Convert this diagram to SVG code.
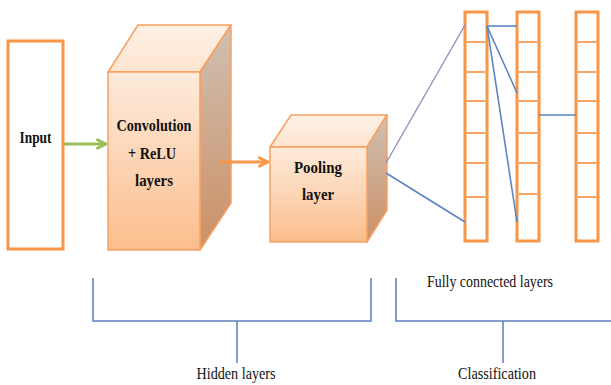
<svg xmlns="http://www.w3.org/2000/svg" width="611" height="385" viewBox="0 0 611 385">
<defs>
<linearGradient id="gFront" x1="0" y1="0" x2="0" y2="1">
<stop offset="0" stop-color="#FDEBDC"/>
<stop offset="1" stop-color="#FBBE8C"/>
</linearGradient>
<linearGradient id="gSide" x1="0" y1="0" x2="0" y2="1">
<stop offset="0" stop-color="#CFC0B2"/>
<stop offset="1" stop-color="#CC9066"/>
</linearGradient>
<linearGradient id="gTop" x1="0" y1="0" x2="0" y2="1">
<stop offset="0" stop-color="#FEF1E6"/>
<stop offset="1" stop-color="#FDE4CF"/>
</linearGradient>
<marker id="arrG" viewBox="0 0 10 10" refX="9" refY="5" markerWidth="4" markerHeight="4" orient="auto" markerUnits="strokeWidth">
<path d="M1,1 L9,5 L1,9" fill="none" stroke="#9BBB59" stroke-width="2.2"/>
</marker>
<marker id="arrO" viewBox="0 0 10 10" refX="9" refY="5" markerWidth="4" markerHeight="4" orient="auto" markerUnits="strokeWidth">
<path d="M1,1 L9,5 L1,9" fill="none" stroke="#F79646" stroke-width="2.2"/>
</marker>
</defs>
<style>
.box{fill:#fff;stroke:#F79646;stroke-width:3}
.face{stroke:#F9A060;stroke-width:1.5;stroke-linejoin:round}
.cell{stroke:#F9A566;stroke-width:2}
.lbl{font-family:"Liberation Serif",serif;font-weight:bold;font-size:17px;fill:#111;text-anchor:middle}
.cap{font-family:"Liberation Serif",serif;font-size:16px;fill:#111;text-anchor:middle}
.br{fill:none;stroke:#5A7FBE;stroke-width:1.5}
.blue{stroke:#5B84C4;stroke-width:1.6}
</style>

<g id="input">
<rect class="box" x="8" y="41" width="55" height="208"/>
<text class="lbl" x="35.5" y="143" textLength="32" lengthAdjust="spacingAndGlyphs">Input</text>
</g>

<g id="conv">
<polygon class="face" points="108,72 138,25 231,25 200,72" fill="url(#gTop)"/>
<polygon class="face" points="200,72 231,25 231,203 200,250" fill="url(#gSide)"/>
<rect class="face" x="108" y="72" width="92" height="178" fill="url(#gFront)"/>
<text class="lbl" x="154" y="131" textLength="75" lengthAdjust="spacingAndGlyphs">Convolution</text>
<text class="lbl" x="152" y="159" textLength="48" lengthAdjust="spacingAndGlyphs">+ ReLU</text>
<text class="lbl" x="154" y="186" textLength="38" lengthAdjust="spacingAndGlyphs">layers</text>
</g>

<g id="pool">
<polygon class="face" points="270,147 291,115 387,115 367,147" fill="url(#gTop)"/>
<polygon class="face" points="367,147 387,115 387,210 367,242" fill="url(#gSide)"/>
<rect class="face" x="270" y="147" width="97" height="95" fill="url(#gFront)"/>
<text class="lbl" x="318" y="173" textLength="48" lengthAdjust="spacingAndGlyphs">Pooling</text>
<text class="lbl" x="318" y="200" textLength="32" lengthAdjust="spacingAndGlyphs">layer</text>
</g>

<g id="fc1">
<rect class="box" x="465" y="12" width="22" height="229"/>
<path class="cell" d="M465,42H487M465,72H487M465,101H487M465,133H487M465,163H487M465,197H487"/>
</g>
<g id="fc2">
<rect class="box" x="517" y="12" width="22" height="229"/>
<path class="cell" d="M517,42H539M517,72H539M517,101H539M517,133H539M517,163H539M517,194H539"/>
</g>
<g id="fc3">
<rect class="box" x="576" y="12" width="22" height="229"/>
<path class="cell" d="M576,42H598M576,72H598M576,101H598M576,133H598M576,163H598M576,197H598"/>
</g>

<g id="connectors">
<line x1="64" y1="144" x2="106" y2="144" stroke="#9BBB59" stroke-width="3" marker-end="url(#arrG)"/>
<line x1="220" y1="162" x2="268" y2="162" stroke="#F79646" stroke-width="3" marker-end="url(#arrO)"/>
<line x1="386" y1="163" x2="465" y2="25" stroke="#9A83BE" stroke-width="1.3"/>
<line class="blue" x1="386" y1="173" x2="465" y2="222"/>
<line class="blue" x1="487" y1="26" x2="517" y2="26"/>
<line class="blue" x1="487" y1="26" x2="517" y2="93"/>
<line class="blue" x1="487" y1="26" x2="517" y2="222"/>
<line class="blue" x1="539" y1="115" x2="576" y2="115"/>
<path class="br" d="M93,278V321H371V278M237,321V363"/>
<path class="br" d="M396,278V321H611M503,321V363"/>
</g>

<g id="labels">
<text class="cap" x="490" y="287" textLength="126" lengthAdjust="spacingAndGlyphs">Fully connected layers</text>
<text class="cap" x="236" y="379" textLength="79" lengthAdjust="spacingAndGlyphs">Hidden layers</text>
<text class="cap" x="497" y="379" textLength="78" lengthAdjust="spacingAndGlyphs">Classification</text>
</g>
</svg>
